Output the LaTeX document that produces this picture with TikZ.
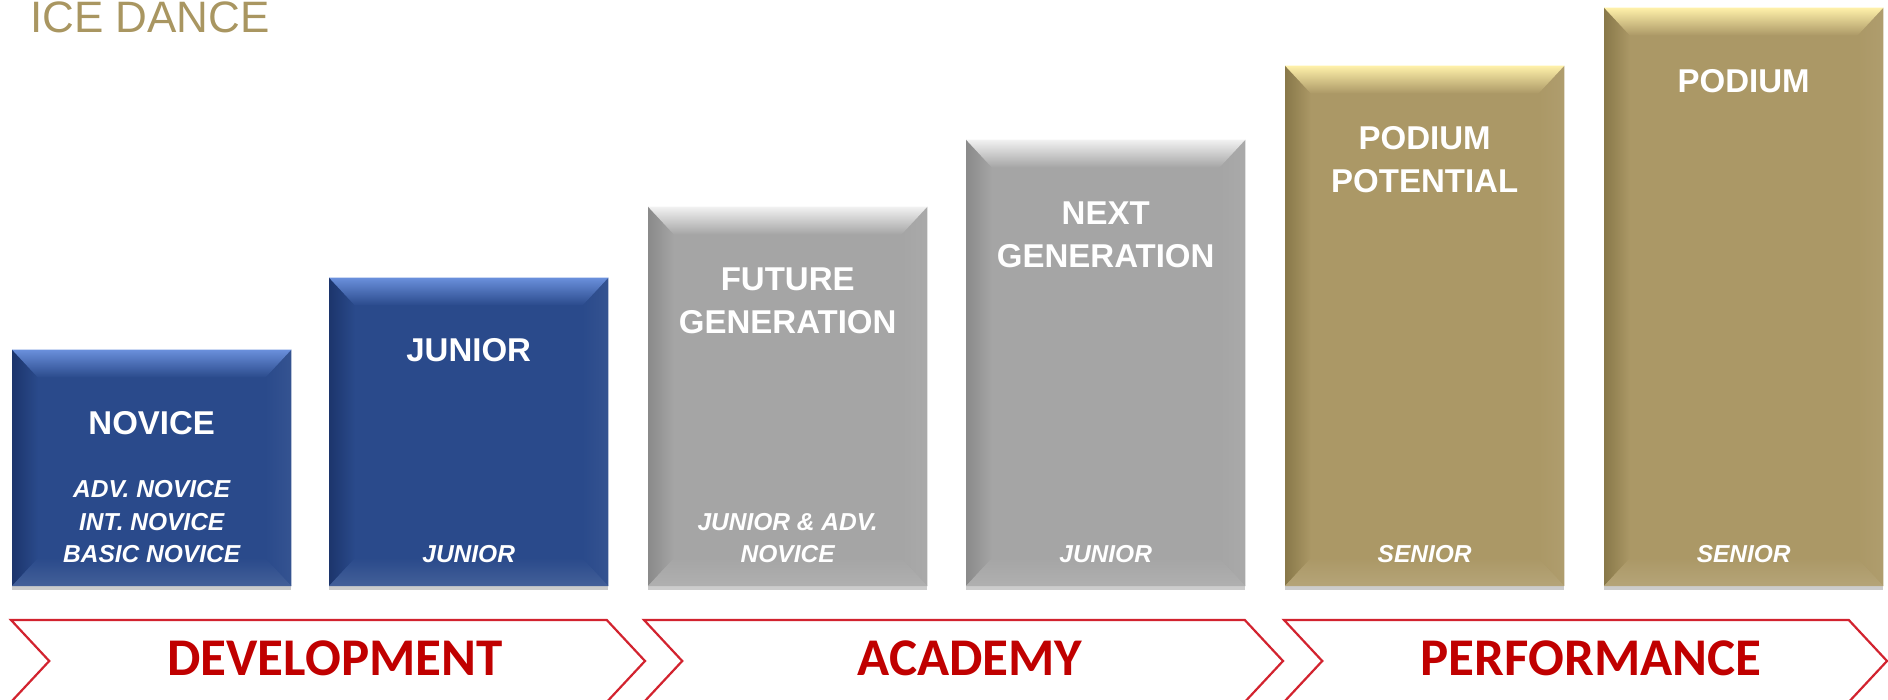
\documentclass[tikz,border=0pt]{standalone}
\usepackage{fontspec}
\setmainfont{Liberation Sans}
\newfontfamily\phasefont{Carlito}
\usetikzlibrary{calc,shapes.symbols,shadows}

\definecolor{bluemain}{HTML}{2A4A8B}
\definecolor{bluelight}{HTML}{6A90DC}
\definecolor{bluedark}{HTML}{1C356C}
\definecolor{greymain}{HTML}{A5A5A5}
\definecolor{greylight}{HTML}{F2F2F2}
\definecolor{greydark}{HTML}{8A8A8A}
\definecolor{goldmain}{HTML}{AB9866}
\definecolor{goldlight}{HTML}{FFF1AA}
\definecolor{golddark}{HTML}{887849}
\definecolor{phasered}{HTML}{D2232F}
\definecolor{phasetext}{HTML}{C00000}
\definecolor{headgold}{HTML}{A99661}

% bevelled edges of a block: node, light, main, dark
\newcommand{\bevelbox}[4]{%
  \shade[left color=#4, right color=#3] (#1.north west) -- ($(#1.north west)+(26,28)$) -- ($(#1.south west)+(26,-28)$) -- (#1.south west) -- cycle;
  \shade[left color=#3, right color=#3!95!white] (#1.north east) -- ($(#1.north east)+(-26,28)$) -- ($(#1.south east)+(-26,-28)$) -- (#1.south east) -- cycle;
  \shade[top color=#3, bottom color=#3!88!white] (#1.south west) -- ($(#1.south west)+(26,-28)$) -- ($(#1.south east)+(-26,-28)$) -- (#1.south east) -- cycle;
  \shade[top color=#2, middle color=#3!70!#2, bottom color=#3] (#1.north west) -- ($(#1.north west)+(26,28)$) -- ($(#1.north east)+(-26,28)$) -- (#1.north east) -- cycle;
}

\begin{document}
\begin{tikzpicture}[x=1pt, y=-1pt,
  bar/.style={rectangle, minimum width=279pt, inner sep=0pt, anchor=south west, drop shadow={shadow xshift=0pt, shadow yshift=-4pt, opacity=.2, fill=black}},
  title/.style={anchor=south, inner sep=0pt, align=center, text=white, font=\fontsize{33}{43}\selectfont\bfseries},
  level/.style={anchor=south, inner sep=0pt, align=center, text=white, font=\fontsize{24.5}{32.5}\selectfont\bfseries\itshape},
  phase/.style={signal, signal from=west, signal to=east, signal pointer angle=94, draw=phasered, line width=2.2pt, minimum height=82pt, inner sep=0pt},
  phaselabel/.style={anchor=base, inner sep=0pt, text=phasetext, font=\phasefont\fontsize{53}{53}\selectfont\bfseries}]
  \useasboundingbox (0,0) rectangle (1888,700);

  \node[anchor=base west, inner sep=0pt, text=headgold, font=\fontsize{44}{44}\selectfont] (heading) at (30,33) {ICE DANCE};

  % blocks
  \node[bar, fill=bluemain, minimum height=236pt] (novice) at (12,586) {};
  \node[bar, fill=bluemain, minimum height=308pt] (junior) at (329,586) {};
  \node[bar, fill=greymain, minimum height=379pt] (future) at (648,586) {};
  \node[bar, fill=greymain, minimum height=446pt] (next) at (966,586) {};
  \node[bar, fill=goldmain, minimum height=520pt] (potential) at (1285,586) {};
  \node[bar, fill=goldmain, minimum height=578pt] (podium) at (1604,586) {};
  \bevelbox{novice}{bluelight}{bluemain}{bluedark}
  \bevelbox{junior}{bluelight}{bluemain}{bluedark}
  \bevelbox{future}{greylight}{greymain}{greydark}
  \bevelbox{next}{greylight}{greymain}{greydark}
  \bevelbox{potential}{goldlight}{goldmain}{golddark}
  \bevelbox{podium}{goldlight}{goldmain}{golddark}

  % names and levels
  \node[title] (noviceT) at ([yshift=-85pt]novice.north) {NOVICE};
  \node[level] (noviceL) at ([yshift=23pt]novice.south) {ADV. NOVICE\\INT. NOVICE\\BASIC NOVICE};
  \node[title] (juniorT) at ([yshift=-84pt]junior.north) {JUNIOR};
  \node[level] (juniorL) at ([yshift=23pt]junior.south) {JUNIOR};
  \node[title] (futureT) at ([yshift=-127pt]future.north) {FUTURE\\GENERATION};
  \node[level] (futureL) at ([yshift=23pt]future.south) {JUNIOR \& ADV.\\NOVICE};
  \node[title] (nextT) at ([yshift=-128pt]next.north) {NEXT\\GENERATION};
  \node[level] (nextL) at ([yshift=23pt]next.south) {JUNIOR};
  \node[title] (potentialT) at ([yshift=-127pt]potential.north) {PODIUM\\POTENTIAL};
  \node[level] (potentialL) at ([yshift=23pt]potential.south) {SENIOR};
  \node[title] (podiumT) at ([yshift=-85pt]podium.north) {PODIUM};
  \node[level] (podiumL) at ([yshift=23pt]podium.south) {SENIOR};

  % phases
  \node[phase, minimum width=634pt] (development) at (328,661) {};
  \node[phase, minimum width=639pt] (academy) at (963.5,661) {};
  \node[phase, minimum width=603pt] (performance) at (1585.5,661) {};
  \node[phaselabel] (developmentT) at (335,675) {DEVELOPMENT};
  \node[phaselabel] (academyT) at (970,675) {ACADEMY};
  \node[phaselabel] (performanceT) at (1591,675) {PERFORMANCE};
\end{tikzpicture}
\end{document}
